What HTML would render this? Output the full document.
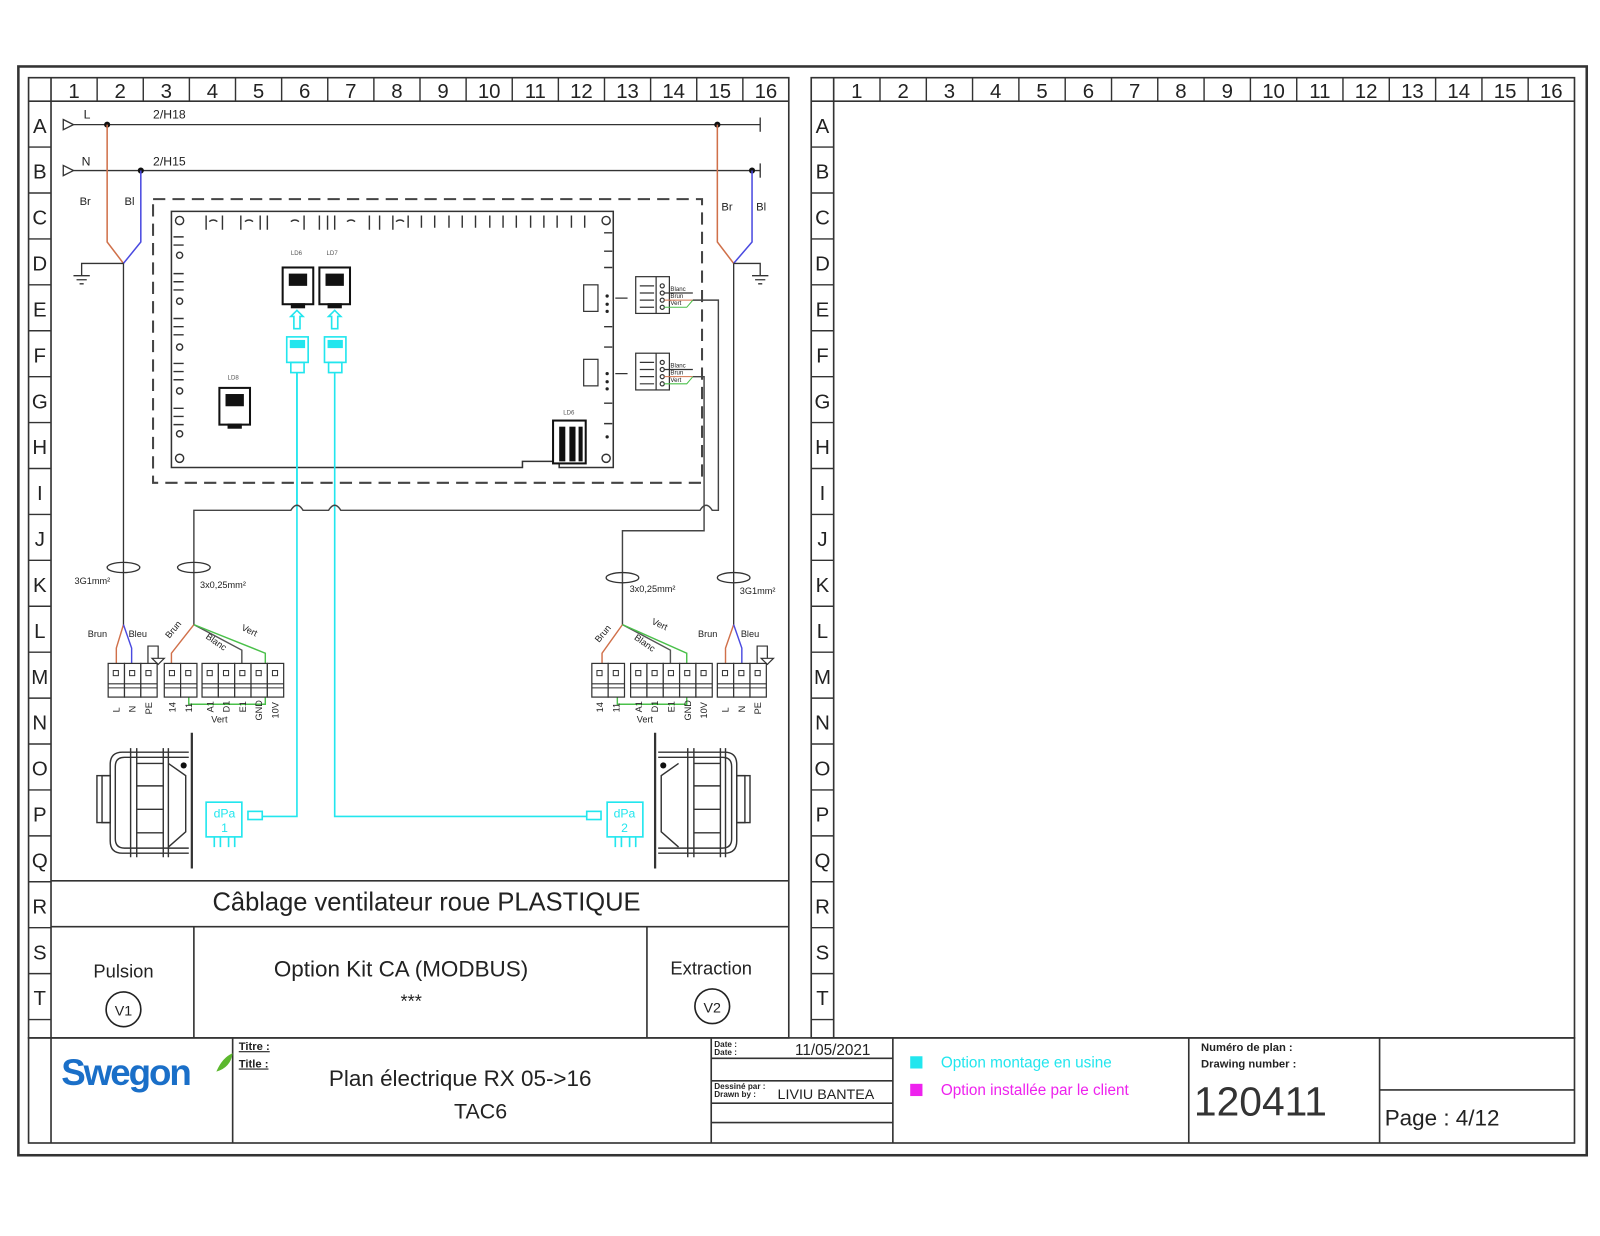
<!DOCTYPE html>
<html><head><meta charset="utf-8"><style>
html,body{margin:0;padding:0;background:#fff;}
svg{display:block;}
text{font-family:"Liberation Sans",sans-serif;}
</style></head><body>
<svg width="1600" height="1236" viewBox="0 0 1568 1211" xmlns="http://www.w3.org/2000/svg">
<rect width="1568" height="1211" fill="#fff"/>
<!-- outer frame -->
<rect x="18" y="65" width="1537" height="1067" fill="none" stroke="#333" stroke-width="2.5"/>
<!-- panels -->
<g fill="none" stroke="#333" stroke-width="1.6">
<rect x="28" y="76" width="745" height="941"/>
<rect x="795" y="76" width="748" height="941"/>
<rect x="28" y="1017" width="1515" height="103"/>
<line x1="28" y1="99" x2="773" y2="99"/>
<line x1="795" y1="99" x2="1543" y2="99"/>
<line x1="50" y1="76" x2="50" y2="1120"/>
<line x1="817" y1="76" x2="817" y2="1017"/>
<line x1="50" y1="863" x2="773" y2="863"/>
<line x1="50" y1="908" x2="773" y2="908"/>
<line x1="190" y1="908" x2="190" y2="1017"/>
<line x1="634" y1="908" x2="634" y2="1017"/>
<line x1="228" y1="1017" x2="228" y2="1120"/>
<line x1="697" y1="1017" x2="697" y2="1120"/>
<line x1="875" y1="1017" x2="875" y2="1120"/>
<line x1="1165" y1="1017" x2="1165" y2="1120"/>
<line x1="1352" y1="1017" x2="1352" y2="1120"/>
<line x1="697" y1="1037" x2="875" y2="1037"/>
<line x1="697" y1="1059" x2="875" y2="1059"/>
<line x1="697" y1="1081" x2="875" y2="1081"/>
<line x1="697" y1="1100" x2="875" y2="1100"/>
<line x1="1352" y1="1068" x2="1543" y2="1068"/>
</g>
<!-- header column separators -->
<g stroke="#333" stroke-width="1.4">
<line x1="95.2" y1="76" x2="95.2" y2="99"/><line x1="140.4" y1="76" x2="140.4" y2="99"/><line x1="185.6" y1="76" x2="185.6" y2="99"/><line x1="230.8" y1="76" x2="230.8" y2="99"/><line x1="276" y1="76" x2="276" y2="99"/><line x1="321.2" y1="76" x2="321.2" y2="99"/><line x1="366.4" y1="76" x2="366.4" y2="99"/><line x1="411.6" y1="76" x2="411.6" y2="99"/><line x1="456.8" y1="76" x2="456.8" y2="99"/><line x1="502" y1="76" x2="502" y2="99"/><line x1="547.2" y1="76" x2="547.2" y2="99"/><line x1="592.4" y1="76" x2="592.4" y2="99"/><line x1="637.6" y1="76" x2="637.6" y2="99"/><line x1="682.8" y1="76" x2="682.8" y2="99"/><line x1="728" y1="76" x2="728" y2="99"/>
<line x1="862.4" y1="76" x2="862.4" y2="99"/><line x1="907.8" y1="76" x2="907.8" y2="99"/><line x1="953.1" y1="76" x2="953.1" y2="99"/><line x1="998.5" y1="76" x2="998.5" y2="99"/><line x1="1043.9" y1="76" x2="1043.9" y2="99"/><line x1="1089.3" y1="76" x2="1089.3" y2="99"/><line x1="1134.6" y1="76" x2="1134.6" y2="99"/><line x1="1180" y1="76" x2="1180" y2="99"/><line x1="1225.4" y1="76" x2="1225.4" y2="99"/><line x1="1270.8" y1="76" x2="1270.8" y2="99"/><line x1="1316.1" y1="76" x2="1316.1" y2="99"/><line x1="1361.5" y1="76" x2="1361.5" y2="99"/><line x1="1406.9" y1="76" x2="1406.9" y2="99"/><line x1="1452.3" y1="76" x2="1452.3" y2="99"/><line x1="1497.6" y1="76" x2="1497.6" y2="99"/>
</g>
<!-- row separators -->
<g stroke="#333" stroke-width="1.4">
<path d="M28 144H50M28 189H50M28 234H50M28 279H50M28 324H50M28 369H50M28 414H50M28 459H50M28 504H50M28 549H50M28 594H50M28 639H50M28 684H50M28 729H50M28 774H50M28 819H50M28 864H50M28 909H50M28 954H50M28 999H50"/>
<path d="M795 144H817M795 189H817M795 234H817M795 279H817M795 324H817M795 369H817M795 414H817M795 459H817M795 504H817M795 549H817M795 594H817M795 639H817M795 684H817M795 729H817M795 774H817M795 819H817M795 864H817M795 909H817M795 954H817M795 999H817"/>
</g>
<!-- header numbers -->
<g font-size="20" fill="#222" text-anchor="middle">
<text x="72.6" y="96">1</text><text x="117.8" y="96">2</text><text x="163" y="96">3</text><text x="208.2" y="96">4</text><text x="253.4" y="96">5</text><text x="298.6" y="96">6</text><text x="343.8" y="96">7</text><text x="389" y="96">8</text><text x="434.2" y="96">9</text><text x="479.4" y="96">10</text><text x="524.6" y="96">11</text><text x="569.8" y="96">12</text><text x="615" y="96">13</text><text x="660.2" y="96">14</text><text x="705.4" y="96">15</text><text x="750.6" y="96">16</text>
<text x="839.7" y="96">1</text><text x="885.1" y="96">2</text><text x="930.4" y="96">3</text><text x="975.8" y="96">4</text><text x="1021.2" y="96">5</text><text x="1066.6" y="96">6</text><text x="1112" y="96">7</text><text x="1157.3" y="96">8</text><text x="1202.7" y="96">9</text><text x="1248.1" y="96">10</text><text x="1293.5" y="96">11</text><text x="1338.8" y="96">12</text><text x="1384.2" y="96">13</text><text x="1429.6" y="96">14</text><text x="1475" y="96">15</text><text x="1520.3" y="96">16</text>
</g>
<g font-size="20" fill="#222" text-anchor="middle">
<text x="39" y="130">A</text><text x="39" y="175">B</text><text x="39" y="220">C</text><text x="39" y="265">D</text><text x="39" y="310">E</text><text x="39" y="355">F</text><text x="39" y="400">G</text><text x="39" y="445">H</text><text x="39" y="490">I</text><text x="39" y="535">J</text><text x="39" y="580">K</text><text x="39" y="625">L</text><text x="39" y="670">M</text><text x="39" y="715">N</text><text x="39" y="760">O</text><text x="39" y="805">P</text><text x="39" y="850">Q</text><text x="39" y="895">R</text><text x="39" y="940">S</text><text x="39" y="985">T</text>
<text x="806" y="130">A</text><text x="806" y="175">B</text><text x="806" y="220">C</text><text x="806" y="265">D</text><text x="806" y="310">E</text><text x="806" y="355">F</text><text x="806" y="400">G</text><text x="806" y="445">H</text><text x="806" y="490">I</text><text x="806" y="535">J</text><text x="806" y="580">K</text><text x="806" y="625">L</text><text x="806" y="670">M</text><text x="806" y="715">N</text><text x="806" y="760">O</text><text x="806" y="805">P</text><text x="806" y="850">Q</text><text x="806" y="895">R</text><text x="806" y="940">S</text><text x="806" y="985">T</text>
</g>

<!-- L / N buses -->
<g stroke="#333" stroke-width="1.3" fill="none">
<path d="M62 117 L72 122 L62 127 Z"/><path d="M62 162 L72 167 L62 172 Z"/>
<line x1="72" y1="122" x2="745" y2="122"/><line x1="745" y1="115" x2="745" y2="129"/>
<line x1="72" y1="167" x2="745" y2="167"/><line x1="745" y1="160" x2="745" y2="174"/>
</g>
<g fill="#111"><circle cx="105" cy="122" r="3"/><circle cx="138" cy="167" r="3"/><circle cx="703" cy="122" r="3"/><circle cx="737" cy="167" r="3"/></g>
<g font-size="12" fill="#222"><text x="82" y="116">L</text><text x="150" y="116">2/H18</text><text x="80" y="162">N</text><text x="150" y="162">2/H15</text>
<text x="78" y="201" font-size="11">Br</text><text x="122" y="201" font-size="11">Bl</text><text x="707" y="206" font-size="11">Br</text><text x="741" y="206" font-size="11">Bl</text></g>
<g fill="none" stroke-width="1.5">
<path d="M105 122V237L121 258" stroke="#d0704a"/><path d="M138 167V237L121 258" stroke="#4a4ae0"/>
<path d="M703 122V237L719 258" stroke="#d0704a"/><path d="M737 167V237L719 258" stroke="#4a4ae0"/>
</g>
<g stroke="#333" stroke-width="1.3" fill="none">
<path d="M121 258H80V270M72 270H88M75 274H85M78 278H82"/>
<path d="M719 258H745V270M737 270H753M740 274H750M743 278H747"/>
<line x1="121" y1="258" x2="121" y2="612"/>
<line x1="719" y1="258" x2="719" y2="612"/>
</g>

<!-- dashed enclosure and board -->
<rect x="150" y="195" width="538" height="278" fill="none" stroke="#444" stroke-width="2" stroke-dasharray="12,7"/>
<path d="M168 207H601V458H548V452H512V458H168Z" fill="none" stroke="#333" stroke-width="1.5"/>
<g stroke="#333" stroke-width="1.4" fill="none">
<circle cx="176" cy="216" r="4"/><circle cx="594" cy="216" r="4"/><circle cx="176" cy="449" r="4"/><circle cx="594" cy="449" r="4"/>
<path d="M202 211v14M218 211v14M236 211v14M255 211v14M262 211v14M298 211v14M313 211v14M321 211v14M328 211v14M362 211v14M372 211v14M385 211v14"/>
<path d="M205 217q4 -3 8 0M240 217q4 -3 8 0M285 217q4 -3 8 0M340 217q4 -3 8 0M388 217q4 -3 8 0"/>
<path d="M400 211v12M413 211v12M426 211v12M440 211v12M453 211v12M466 211v12M480 211v12M493 211v12M506 211v12M520 211v12M533 211v12M546 211v12M560 211v12M573 211v12"/>
<path d="M170 232h10M170 240h10M170 268h10M170 276h10M170 284h10M170 312h10M170 320h10M170 328h10M170 356h10M170 364h10M170 372h10M170 400h10M170 408h10M170 416h10"/>
<circle cx="176" cy="250" r="3"/><circle cx="176" cy="295" r="3"/><circle cx="176" cy="340" r="3"/><circle cx="176" cy="383" r="3"/><circle cx="176" cy="425" r="3"/>
<path d="M592 228h8M592 246h8M592 262h8M592 320h8M592 340h8M592 395h8M592 415h8"/>
</g>
<g fill="#222">
<circle cx="595" cy="290" r="1.6"/><circle cx="595" cy="298" r="1.6"/><circle cx="595" cy="305" r="1.6"/><circle cx="595" cy="366" r="1.6"/><circle cx="595" cy="374" r="1.6"/><circle cx="595" cy="381" r="1.6"/><circle cx="595" cy="428" r="1.6"/>
</g>
<!-- side connectors -->
<g stroke="#333" stroke-width="1.2" fill="none">
<rect x="572" y="279" width="14" height="26"/><rect x="572" y="352" width="14" height="26"/>
<path d="M603 292h12M603 366h12"/>
<rect x="623" y="271" width="33" height="36"/><line x1="643" y1="271" x2="643" y2="307"/>
<rect x="623" y="346" width="33" height="36"/><line x1="643" y1="346" x2="643" y2="382"/>
<path d="M627 280h14M627 287h14M627 294h14M627 301h14M627 355h14M627 362h14M627 369h14M627 376h14"/>
<circle cx="649" cy="280" r="2"/><circle cx="649" cy="287" r="2"/><circle cx="649" cy="294" r="2"/><circle cx="649" cy="301" r="2"/>
<circle cx="649" cy="355" r="2"/><circle cx="649" cy="362" r="2"/><circle cx="649" cy="369" r="2"/><circle cx="649" cy="376" r="2"/>
<path d="M651 287h28M651 362h28"/>
</g>
<g font-size="6" fill="#222"><text x="657" y="285">Blanc</text><text x="657" y="292">Brun</text><text x="657" y="299">Vert</text><text x="657" y="360">Blanc</text><text x="657" y="367">Brun</text><text x="657" y="374">Vert</text></g>
<path d="M651 294h28M651 369h28" stroke="#d0704a" stroke-width="1"/>
<path d="M651 301h22l6 -7M651 376h22l6 -7" stroke="#4ac04a" stroke-width="1" fill="none"/>
<!-- RJ jacks -->
<g stroke="#111" stroke-width="2" fill="#fff">
<rect x="277" y="262" width="30" height="36"/><rect x="313" y="262" width="30" height="36"/>
<rect x="215" y="380" width="30" height="36"/>
<rect x="542" y="412" width="32" height="42"/>
</g>
<g fill="#111">
<rect x="283" y="268" width="18" height="12"/><rect x="319" y="268" width="18" height="12"/><rect x="221" y="386" width="18" height="12"/>
<rect x="285" y="297" width="14" height="5"/><rect x="321" y="297" width="14" height="5"/><rect x="223" y="415" width="14" height="5"/>
<rect x="548" y="418" width="6" height="34"/><rect x="558" y="418" width="6" height="34"/><rect x="567" y="418" width="4" height="34"/>
</g>
<g font-size="6" fill="#555"><text x="285" y="250">LD6</text><text x="320" y="250">LD7</text><text x="223" y="372">LD8</text><text x="552" y="406">LD6</text></g>
<!-- cyan option connectors -->
<g stroke="#22e6ee" stroke-width="1.6" fill="none">
<path d="M288 322h6v-12h3l-6 -6l-6 6h3z"/><path d="M325 322h6v-12h3l-6 -6l-6 6h3z"/>
<rect x="281" y="330" width="21" height="25"/><rect x="318" y="330" width="21" height="25"/>
<rect x="285" y="355" width="13" height="10"/><rect x="322" y="355" width="13" height="10"/>
<path d="M291 365V497q0 -7 0 0M291 497q0 -7 0 0"/>
<path d="M291 365V800H257"/>
<path d="M328 365V800H575"/>
<rect x="202" y="786" width="35" height="34"/><rect x="595" y="786" width="35" height="34"/>
<path d="M210 820v10M216 820v10M224 820v10M230 820v10M603 820v10M609 820v10M617 820v10M623 820v10"/>
<rect x="243" y="795" width="14" height="8"/><rect x="575" y="795" width="14" height="8"/>
</g>
<g fill="#22e6ee"><rect x="284" y="333" width="15" height="8"/><rect x="321" y="333" width="15" height="8"/></g>
<g font-size="12" fill="#22e6ee" text-anchor="middle"><text x="220" y="801">dPa</text><text x="220" y="815">1</text><text x="612" y="801">dPa</text><text x="612" y="815">2</text></g>
<!-- gray signal cables -->
<g stroke="#444" stroke-width="1.4" fill="none">
<path d="M190 612V500H285q6 -10 12 0H322q6 -10 12 0H686q6 -10 12 0H704V294H679"/>
<path d="M679 369H690V520H610V612"/>
</g>
<!-- cable glands -->
<g stroke="#333" stroke-width="1.3" fill="none">
<ellipse cx="121" cy="556" rx="16" ry="5"/><ellipse cx="190" cy="556" rx="16" ry="5"/>
<ellipse cx="610" cy="566" rx="16" ry="5"/><ellipse cx="719" cy="566" rx="16" ry="5"/>
</g>
<g font-size="9" fill="#222"><text x="73" y="572">3G1mm²</text><text x="196" y="576">3x0,25mm²</text><text x="617" y="580">3x0,25mm²</text><text x="725" y="582">3G1mm²</text></g>
<!-- left fan wiring -->
<g fill="none" stroke-width="1.4">
<path d="M121 612L114 635V660" stroke="#d0704a"/><path d="M121 612L129 635V660" stroke="#4a4ae0"/>
<path d="M190 612L168 640V660" stroke="#d0704a"/>
<path d="M190 612L237 637V660" stroke="#555"/>
<path d="M190 612L260 640V690H230H185V660" stroke="#4ac04a"/>
<path d="M610 612L590 640V660" stroke="#d0704a"/>
<path d="M610 612L657 637V660" stroke="#555"/>
<path d="M610 612L673 640V690H640H605V660" stroke="#4ac04a"/>
<path d="M719 612L711 635V660" stroke="#d0704a"/><path d="M719 612L727 635V660" stroke="#4a4ae0"/>
</g>
<g stroke="#333" stroke-width="1.2" fill="none">
<path d="M145 660V633H155V645M149 645H161L155 651Z"/>
<path d="M742 660V633H752V645M746 645H758L752 651Z"/>
</g>
<!-- terminal blocks -->
<g stroke="#333" stroke-width="1.2" fill="#fff">
<rect x="106" y="650" width="16" height="33"/><rect x="122" y="650" width="16" height="33"/><rect x="138" y="650" width="16" height="33"/>
<rect x="161" y="650" width="16" height="33"/><rect x="177" y="650" width="16" height="33"/>
<rect x="198" y="650" width="16" height="33"/><rect x="214" y="650" width="16" height="33"/><rect x="230" y="650" width="16" height="33"/><rect x="246" y="650" width="16" height="33"/><rect x="262" y="650" width="16" height="33"/>
<rect x="580" y="650" width="16" height="33"/><rect x="596" y="650" width="16" height="33"/>
<rect x="618" y="650" width="16" height="33"/><rect x="634" y="650" width="16" height="33"/><rect x="650" y="650" width="16" height="33"/><rect x="666" y="650" width="16" height="33"/><rect x="682" y="650" width="16" height="33"/>
<rect x="703" y="650" width="16" height="33"/><rect x="719" y="650" width="16" height="33"/><rect x="735" y="650" width="16" height="33"/>
</g>
<g stroke="#333" stroke-width="1" fill="none">
<path d="M106 670H154M106 674H154M161 670H193M161 674H193M198 670H278M198 674H278M580 670H612M580 674H612M618 670H698M618 674H698M703 670H751M703 674H751"/>
</g>
<g stroke="#333" stroke-width="1" fill="#fff">
<rect x="111" y="657" width="5" height="5"/><rect x="127" y="657" width="5" height="5"/><rect x="143" y="657" width="5" height="5"/><rect x="166" y="657" width="5" height="5"/><rect x="182" y="657" width="5" height="5"/><rect x="203" y="657" width="5" height="5"/><rect x="219" y="657" width="5" height="5"/><rect x="235" y="657" width="5" height="5"/><rect x="251" y="657" width="5" height="5"/><rect x="267" y="657" width="5" height="5"/>
<rect x="585" y="657" width="5" height="5"/><rect x="601" y="657" width="5" height="5"/><rect x="623" y="657" width="5" height="5"/><rect x="639" y="657" width="5" height="5"/><rect x="655" y="657" width="5" height="5"/><rect x="671" y="657" width="5" height="5"/><rect x="687" y="657" width="5" height="5"/><rect x="708" y="657" width="5" height="5"/><rect x="724" y="657" width="5" height="5"/><rect x="740" y="657" width="5" height="5"/>
</g>
<g font-size="9" fill="#222">
<text transform="translate(117,698) rotate(-90)">L</text><text transform="translate(133,698) rotate(-90)">N</text><text transform="translate(149,700) rotate(-90)">PE</text>
<text transform="translate(172,698) rotate(-90)">14</text><text transform="translate(188,698) rotate(-90)">11</text>
<text transform="translate(209,698) rotate(-90)">A1</text><text transform="translate(225,698) rotate(-90)">D1</text><text transform="translate(241,698) rotate(-90)">E1</text><text transform="translate(257,706) rotate(-90)">GND</text><text transform="translate(273,704) rotate(-90)">10V</text>
<text transform="translate(591,698) rotate(-90)">14</text><text transform="translate(607,698) rotate(-90)">11</text>
<text transform="translate(629,698) rotate(-90)">A1</text><text transform="translate(645,698) rotate(-90)">D1</text><text transform="translate(661,698) rotate(-90)">E1</text><text transform="translate(677,706) rotate(-90)">GND</text><text transform="translate(693,704) rotate(-90)">10V</text>
<text transform="translate(714,698) rotate(-90)">L</text><text transform="translate(730,698) rotate(-90)">N</text><text transform="translate(746,700) rotate(-90)">PE</text>
<text x="207" y="708">Vert</text><text x="624" y="708">Vert</text>
<text x="86" y="624">Brun</text><text x="126" y="624">Bleu</text><text x="684" y="624">Brun</text><text x="726" y="624">Bleu</text>
<text transform="translate(166,626) rotate(-50)">Brun</text><text transform="translate(201,625) rotate(35)">Blanc</text><text transform="translate(236,617) rotate(25)">Vert</text>
<text transform="translate(587,630) rotate(-50)">Brun</text><text transform="translate(621,626) rotate(35)">Blanc</text><text transform="translate(638,611) rotate(25)">Vert</text>
</g>
<!-- fans -->
<g stroke="#333" stroke-width="1.4" fill="none">
<line x1="188" y1="718" x2="188" y2="851" stroke-width="2.2"/>
<path d="M185 737H120q-12 0 -12 12V824q0 12 12 12H185"/><path d="M185 742H122q-9 0 -9 9V822q0 9 9 9H185"/>
<rect x="95" y="760" width="13" height="46"/><rect x="100" y="760" width="8" height="46"/>
<path d="M128 733v107M134 733v107M160 733v107M165 733v107"/>
<path d="M134 748H160M134 770H160M134 793H160M134 816H160"/>
<path d="M165 748L182 760V815L165 830"/>
<line x1="642" y1="718" x2="642" y2="851" stroke-width="2.2"/>
<path d="M645 737H710q12 0 12 12V824q0 12 -12 12H645"/><path d="M645 742H708q9 0 9 9V822q0 9 -9 9H645"/>
<rect x="722" y="760" width="13" height="46"/><rect x="722" y="760" width="8" height="46"/>
<path d="M680 733v107M674 733v107M711 733v107M706 733v107"/>
<path d="M680 748H706M680 770H706M680 793H706M680 816H706"/>
<path d="M665 748L648 760V815L665 830"/>
</g>
<g fill="#111"><circle cx="180" cy="750" r="3"/><circle cx="650" cy="750" r="3"/></g>

<!-- left title areas -->
<text x="418" y="892" font-size="25" fill="#222" text-anchor="middle">Câblage  ventilateur  roue  PLASTIQUE</text>
<text x="121" y="958" font-size="18" fill="#222" text-anchor="middle">Pulsion</text>
<circle cx="121" cy="989" r="17" fill="none" stroke="#222" stroke-width="1.6"/>
<text x="121" y="995" font-size="14" fill="#222" text-anchor="middle">V1</text>
<text x="393" y="957" font-size="22" fill="#222" text-anchor="middle">Option  Kit  CA  (MODBUS)</text>
<text x="403" y="987" font-size="18" fill="#222" text-anchor="middle">***</text>
<text x="697" y="955" font-size="18" fill="#222" text-anchor="middle">Extraction</text>
<circle cx="698" cy="986" r="17" fill="none" stroke="#222" stroke-width="1.6"/>
<text x="698" y="992" font-size="14" fill="#222" text-anchor="middle">V2</text>

<!-- title block -->
<text x="60" y="1063" font-size="36" font-weight="bold" fill="#1a6fc8" letter-spacing="-2">Swegon</text>
<path d="M212 1050q6 -14 16 -18q-2 14 -16 18z" fill="#5cb82e"/>
<g font-size="11" fill="#222" font-weight="bold"><text x="234" y="1029" text-decoration="underline">Titre :</text><text x="234" y="1046" text-decoration="underline">Title :</text></g>
<text x="451" y="1064" font-size="22" fill="#222" text-anchor="middle">Plan  électrique  RX  05-&gt;16</text>
<text x="471" y="1096" font-size="21" fill="#222" text-anchor="middle">TAC6</text>
<g font-size="8" fill="#222" font-weight="bold"><text x="700" y="1026">Date :</text><text x="700" y="1034">Date :</text><text x="700" y="1067">Dessiné par :</text><text x="700" y="1075">Drawn by :</text></g>
<text x="853" y="1034" font-size="15" fill="#222" text-anchor="end">11/05/2021</text>
<text x="762" y="1077" font-size="14" fill="#222">LIVIU  BANTEA</text>
<rect x="892" y="1035" width="12" height="12" fill="#22e6ee"/>
<rect x="892" y="1062" width="12" height="12" fill="#ee22ee"/>
<text x="922" y="1046" font-size="15" fill="#22e6ee">Option  montage  en  usine</text>
<text x="922" y="1073" font-size="15" fill="#ee22ee">Option  installée  par  le  client</text>
<g font-size="11" fill="#222" font-weight="bold"><text x="1177" y="1030">Numéro de plan :</text><text x="1177" y="1046">Drawing number :</text></g>
<text x="1170" y="1093" font-size="40" fill="#333">120411</text>
<text x="1357" y="1103" font-size="22" fill="#222">Page  :  4/12</text>
</svg>
</body></html>
